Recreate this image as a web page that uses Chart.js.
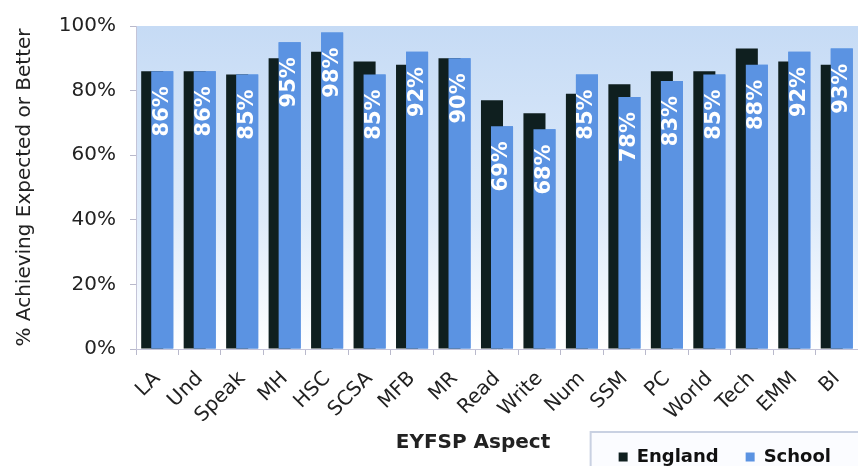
<!DOCTYPE html>
<html>
<head>
<meta charset="utf-8">
<script src="https://cdn.jsdelivr.net/npm/chart.js@4.4.1/dist/chart.umd.min.js"></script>
<style>
  html, body { margin: 0; padding: 0; background: #fff; }
  #wrap { width: 858px; height: 466px; }
</style>
</head>
<body>
<div id="wrap"><canvas id="eyfsp"></canvas></div>
<script>
const aspects = ['LA', 'Und', 'Speak', 'MH', 'HSC', 'SCSA', 'MFB', 'MR', 'Read', 'Write', 'Num', 'SSM', 'PC', 'World', 'Tech', 'EMM', 'BI'];
const england = [86, 86, 85, 90, 92, 89, 88, 90, 77, 73, 79, 82, 86, 86, 93, 89, 88];
const school = [86, 86, 85, 95, 98, 85, 92, 90, 69, 68, 85, 78, 83, 85, 88, 92, 93];
const yTicks = [0, 20, 40, 60, 80, 100];

const FONT = 'DejaVu Sans, Verdana, sans-serif';

// background, legend frame, school bars on top, value labels, x title
const extras = {
    id: 'extras',
    beforeDraw(chart) {
        const { ctx, chartArea: a } = chart;
        ctx.save();
        const g = ctx.createLinearGradient(0, a.top, 0, a.bottom);
        g.addColorStop(0, '#c6dbf5');
        g.addColorStop(0.6, '#deebfa');
        g.addColorStop(1, '#ffffff');
        ctx.fillStyle = g;
        ctx.fillRect(a.left, a.top, a.right - a.left, a.bottom - a.top);

        const boxes = chart.legend.legendHitBoxes;
        if (boxes && boxes.length) {
            const x0 = boxes[0].left - 28;
            const y0 = boxes[0].top - 16;
            ctx.fillStyle = '#fbfcff';
            ctx.strokeStyle = '#c9d1e2';
            ctx.lineWidth = 2;
            ctx.fillRect(x0, y0, chart.width - x0 + 10, chart.height - y0 + 10);
            ctx.strokeRect(x0, y0, chart.width - x0 + 10, chart.height - y0 + 10);
        }
        ctx.restore();
    },
    afterDatasetsDraw(chart) {
        const ctx = chart.ctx;
        const meta = chart.getDatasetMeta(1);
        meta.data.forEach(el => el.draw(ctx));

        ctx.save();
        ctx.fillStyle = '#ffffff';
        ctx.font = 'bold 21px ' + FONT;
        ctx.textAlign = 'right';
        ctx.textBaseline = 'middle';
        meta.data.forEach((el, i) => {
            ctx.save();
            ctx.translate(el.x, el.y + 15);
            ctx.rotate(-Math.PI / 2);
            ctx.fillText(school[i] + '%', 0, 0);
            ctx.restore();
        });
        ctx.restore();
    },
    afterDraw(chart) {
        const ctx = chart.ctx;
        ctx.save();
        ctx.fillStyle = '#222';
        ctx.font = 'bold 20px ' + FONT;
        ctx.textAlign = 'center';
        ctx.textBaseline = 'middle';
        ctx.fillText('EYFSP Aspect', 473, 443);
        ctx.restore();
    }
};

new Chart(document.getElementById('eyfsp'), {
    type: 'bar',
    data: {
        labels: aspects,
        datasets: [{
            label: 'England',
            data: england,
            backgroundColor: '#0f1f1f',
            categoryPercentage: 0.472,
            barPercentage: 2.2
        }, {
            label: 'School',
            data: school,
            backgroundColor: '#5b93e2',
            categoryPercentage: 0.472,
            barPercentage: 2.2
        }]
    },
    options: {
        responsive: true,
        maintainAspectRatio: false,
        animation: false,
        layout: {
            padding: { left: 5, right: 0, top: 23, bottom: -10 }
        },
        plugins: {
            legend: {
                position: 'bottom',
                align: 'end',
                labels: {
                    boxWidth: 9,
                    boxHeight: 9,
                    padding: 27,
                    color: '#111',
                    font: { family: FONT, size: 18, weight: 'bold' }
                }
            },
            tooltip: { enabled: false }
        },
        scales: {
            x: {
                grid: { drawOnChartArea: false, tickLength: 6, color: '#b9b9cc' },
                border: { color: '#c4c4d8' },
                ticks: {
                    minRotation: 45,
                    maxRotation: 45,
                    padding: 12,
                    color: '#222',
                    font: { family: FONT, size: 20 }
                },
                afterFit(s) {
                    s.height = 72;
                    s.paddingRight = 0;
                }
            },
            y: {
                min: 0,
                max: 100,
                afterBuildTicks(s) { s.ticks = yTicks.map(v => ({ value: v })); },
                grid: { drawOnChartArea: false, tickLength: 6, color: '#b9b9cc' },
                border: { color: '#c4c4d8' },
                ticks: {
                    padding: 14,
                    color: '#222',
                    font: { family: FONT, size: 20 },
                    callback: v => v + '%'
                },
                title: {
                    display: true,
                    text: '% Achieving Expected or Better',
                    color: '#222',
                    font: { family: FONT, size: 20 },
                    padding: { top: 8, bottom: 0 }
                },
                afterFit(s) { s.width = 131; }
            }
        }
    },
    plugins: [extras]
});
</script>
</body>
</html>
